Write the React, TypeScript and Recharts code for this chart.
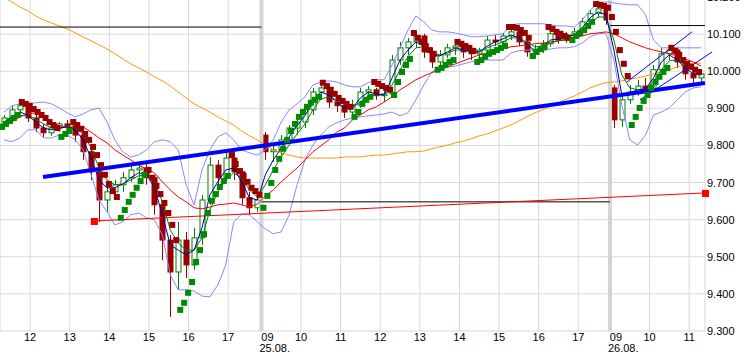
import React from 'react';
import {
  ComposedChart,
  Line,
  Bar,
  XAxis,
  YAxis,
  CartesianGrid,
  ReferenceLine,
  ReferenceDot,
} from 'recharts';

// hour ticks on a continuous trading-time axis (hours since chart start)
const hourTicks = [0.76, 1.76, 2.76, 3.76, 4.76, 5.76, 6.6, 7.6, 8.6, 9.6, 10.6, 11.6, 12.6, 13.6, 14.6, 15.4, 16.4, 17.4];
const hourLabels = ['12', '13', '14', '15', '16', '17', '09', '10', '11', '12', '13', '14', '15', '16', '17', '09', '10', '11'];
const dateLabels: Record<number, string> = { 6: '25.08.', 15: '26.08.' };
const sessionStarts = [6.6, 15.4];
const priceTicks = [9.3, 9.4, 9.5, 9.6, 9.7, 9.8, 9.9, 10.0, 10.1, 10.2];
const barHours = 0.2;
const sarHours = 0.1;
const CANDLE_W = 5;

const open = [
  9.855, 9.874, 9.896, 9.907, 9.874, 9.847, 9.834, 9.847, 9.858, 9.853,
  9.828, 9.783, 9.729, 9.653, 9.675, 9.694, 9.713, 9.734, 9.739, 9.713,
  9.640, 9.545, 9.459, 9.545, 9.478, 9.551, 9.653, 9.747, 9.713, 9.766,
  9.729, 9.659, 9.632,
  9.828, 9.783, 9.788, 9.815, 9.847, 9.863, 9.896, 9.944, 9.955, 9.917,
  9.907, 9.890, 9.909, 9.944, 9.950, 9.934, 9.939, 10.030, 10.063, 10.079,
  10.095, 10.052, 10.025, 10.044, 10.063, 10.068, 10.052, 10.047, 10.057, 10.084,
  10.079, 10.095, 10.106, 10.079, 10.052, 10.057, 10.074, 10.101, 10.084, 10.098,
  10.106, 10.133, 10.155, 10.168,
  9.955, 9.869, 9.923, 9.944, 9.960, 9.950, 10.004, 10.047, 10.057, 10.025, 9.993, 9.982,
];
const high = [
  9.882, 9.907, 9.917, 9.912, 9.882, 9.858, 9.853, 9.863, 9.869, 9.858,
  9.836, 9.793, 9.739, 9.694, 9.707, 9.729, 9.747, 9.756, 9.750, 9.721,
  9.653, 9.559, 9.594, 9.567, 9.578, 9.667, 9.769, 9.761, 9.788, 9.783,
  9.739, 9.675, 9.664,
  9.836, 9.801, 9.828, 9.855, 9.874, 9.912, 9.955, 9.971, 9.963, 9.936,
  9.923, 9.923, 9.955, 9.960, 9.955, 9.950, 10.044, 10.079, 10.090, 10.106,
  10.101, 10.063, 10.057, 10.074, 10.079, 10.079, 10.068, 10.063, 10.095, 10.098,
  10.103, 10.119, 10.117, 10.090, 10.071, 10.084, 10.111, 10.111, 10.106, 10.117,
  10.144, 10.165, 10.179, 10.171,
  9.963, 9.936, 9.963, 9.977, 9.982, 10.017, 10.063, 10.071, 10.063, 10.036, 10.009, 10.004,
];
const low = [
  9.847, 9.869, 9.890, 9.863, 9.836, 9.823, 9.826, 9.836, 9.842, 9.810,
  9.761, 9.707, 9.594, 9.621, 9.653, 9.675, 9.702, 9.713, 9.694, 9.613,
  9.491, 9.338, 9.411, 9.443, 9.465, 9.532, 9.640, 9.686, 9.702, 9.707,
  9.640, 9.613, 9.621,
  9.761, 9.756, 9.774, 9.801, 9.828, 9.847, 9.882, 9.923, 9.901, 9.890,
  9.874, 9.880, 9.901, 9.928, 9.923, 9.917, 9.928, 10.017, 10.044, 10.063,
  10.036, 10.009, 10.014, 10.036, 10.044, 10.036, 10.030, 10.036, 10.052, 10.068,
  10.068, 10.084, 10.068, 10.039, 10.036, 10.049, 10.066, 10.074, 10.076, 10.084,
  10.098, 10.122, 10.144, 10.125,
  9.847, 9.850, 9.912, 9.934, 9.934, 9.944, 9.993, 10.030, 10.009, 9.977, 9.966, 9.971,
];
const close = [
  9.874, 9.896, 9.907, 9.874, 9.847, 9.834, 9.847, 9.858, 9.853, 9.828,
  9.783, 9.729, 9.653, 9.675, 9.694, 9.713, 9.734, 9.739, 9.713, 9.640,
  9.545, 9.459, 9.545, 9.478, 9.551, 9.653, 9.747, 9.713, 9.766, 9.729,
  9.659, 9.632, 9.653,
  9.783, 9.788, 9.815, 9.847, 9.863, 9.896, 9.944, 9.955, 9.917, 9.907,
  9.890, 9.909, 9.944, 9.950, 9.934, 9.939, 10.030, 10.063, 10.079, 10.095,
  10.052, 10.025, 10.044, 10.063, 10.068, 10.052, 10.047, 10.057, 10.084, 10.079,
  10.095, 10.106, 10.079, 10.052, 10.057, 10.074, 10.101, 10.084, 10.098, 10.106,
  10.133, 10.155, 10.168, 10.138,
  9.869, 9.923, 9.944, 9.960, 9.950, 10.004, 10.047, 10.057, 10.025, 9.993, 9.982, 9.993,
];

const bbUpper = [
  9.890, 9.907, 9.912, 9.912, 9.915, 9.917, 9.912, 9.901, 9.888, 9.877,
  9.885, 9.896, 9.901, 9.863, 9.815, 9.783, 9.769, 9.774, 9.788, 9.810,
  9.815, 9.810, 9.788, 9.694, 9.640, 9.734, 9.788, 9.823, 9.834, 9.815,
  9.788, 9.780, 9.774, 9.788, 9.815, 9.863, 9.896, 9.912, 9.931, 9.963,
  9.971, 9.974, 9.971, 9.963, 9.958, 9.958, 9.969, 9.977, 9.977, 10.017,
  10.063, 10.111, 10.149, 10.133, 10.111, 10.106, 10.106, 10.103, 10.098, 10.093,
  10.093, 10.095, 10.098, 10.101, 10.125, 10.128, 10.128, 10.128, 10.128, 10.125,
  10.122, 10.122, 10.119, 10.138, 10.165, 10.184, 10.187, 10.184, 10.181, 10.179,
  10.179, 10.152, 10.084, 10.063, 10.063, 10.063, 10.063, 10.063, 10.063,
];
const bbLower = [
  9.815, 9.810, 9.820, 9.842, 9.842, 9.820, 9.820, 9.828, 9.828, 9.815,
  9.788, 9.721, 9.653, 9.621, 9.586, 9.594, 9.613, 9.618, 9.605, 9.599,
  9.559, 9.451, 9.411, 9.411, 9.408, 9.394, 9.392, 9.424, 9.478, 9.594,
  9.615, 9.613, 9.594, 9.575, 9.562, 9.567, 9.613, 9.694, 9.761, 9.801,
  9.828, 9.850, 9.861, 9.869, 9.874, 9.877, 9.880, 9.882, 9.885, 9.890,
  9.880, 9.888, 9.923, 9.963, 9.998, 10.009, 10.011, 10.014, 10.020, 10.025,
  10.030, 10.030, 10.030, 10.030, 10.049, 10.055, 10.057, 10.057, 10.057, 10.060,
  10.063, 10.063, 10.066, 10.076, 10.093, 10.101, 10.103, 10.030, 9.909, 9.815,
  9.801, 9.828, 9.882, 9.890, 9.901, 9.923, 9.944, 9.955, 9.958,
];
const maRed = [
  9.853, 9.863, 9.877, 9.885, 9.888, 9.880, 9.863, 9.853, 9.850, 9.850,
  9.850, 9.836, 9.820, 9.807, 9.788, 9.774, 9.761, 9.747, 9.737, 9.726,
  9.702, 9.680, 9.661, 9.648, 9.632, 9.629, 9.634, 9.640, 9.642, 9.645,
  9.640, 9.634, 9.642, 9.664, 9.680, 9.702, 9.721, 9.739, 9.761, 9.783,
  9.799, 9.815, 9.836, 9.847, 9.869, 9.882, 9.896, 9.904, 9.917, 9.931,
  9.950, 9.963, 9.977, 9.987, 9.996, 10.004, 10.012, 10.020, 10.028, 10.036,
  10.044, 10.049, 10.055, 10.060, 10.066, 10.068, 10.071, 10.074, 10.076, 10.079,
  10.082, 10.084, 10.090, 10.095, 10.101, 10.103, 10.106, 10.101, 10.090, 10.079,
  10.071, 10.063, 10.057, 10.052, 10.047, 10.041, 10.033, 10.025, 10.014,
];
const maOrange = [
  10.198, 10.187, 10.173, 10.163, 10.149, 10.138, 10.130, 10.122, 10.114, 10.103,
  10.092, 10.082, 10.071, 10.060, 10.047, 10.033, 10.020, 10.009, 9.998, 9.985,
  9.974, 9.960, 9.944, 9.928, 9.912, 9.901, 9.890, 9.877, 9.866, 9.855,
  9.839, 9.826, 9.815, 9.801, 9.788, 9.780, 9.774, 9.769, 9.766, 9.766,
  9.766, 9.766, 9.766, 9.769, 9.769, 9.769, 9.772, 9.774, 9.774, 9.777,
  9.780, 9.783, 9.783, 9.785, 9.791, 9.796, 9.801, 9.807, 9.812, 9.818,
  9.826, 9.831, 9.839, 9.847, 9.855, 9.866, 9.877, 9.888, 9.896, 9.907,
  9.915, 9.925, 9.933, 9.944, 9.955, 9.963, 9.969, 9.971, 9.974, 9.979,
  9.982, 9.987, 9.993, 9.998, 10.004, 10.012, 10.017, 10.022, 10.022,
];
const maNavy = [
  9.863, 9.877, 9.890, 9.882, 9.863, 9.847, 9.842, 9.847, 9.850, 9.842,
  9.815, 9.766, 9.707, 9.686, 9.686, 9.696, 9.713, 9.726, 9.723, 9.686,
  9.613, 9.532, 9.518, 9.505, 9.518, 9.578, 9.667, 9.702, 9.734, 9.739,
  9.702, 9.659, 9.653, 9.721, 9.761, 9.793, 9.823, 9.853, 9.880, 9.917,
  9.944, 9.936, 9.917, 9.901, 9.901, 9.928, 9.944, 9.939, 9.936, 9.982,
  10.030, 10.057, 10.079, 10.068, 10.044, 10.041, 10.052, 10.063, 10.057, 10.052,
  10.052, 10.068, 10.079, 10.087, 10.098, 10.090, 10.071, 10.057, 10.066, 10.084,
  10.087, 10.093, 10.098, 10.117, 10.144, 10.160, 10.152, 10.057, 9.936, 9.942,
  9.950, 9.952, 9.982, 10.025, 10.044, 10.030, 10.009, 9.993, 9.990,
];
const maGreen = [
  9.858, 9.869, 9.880, 9.882, 9.871, 9.858, 9.847, 9.847, 9.850, 9.847,
  9.831, 9.793, 9.739, 9.707, 9.694, 9.696, 9.707, 9.718, 9.721, 9.702,
  9.648, 9.572, 9.537, 9.518, 9.518, 9.551, 9.626, 9.675, 9.707, 9.726,
  9.713, 9.680, 9.661, 9.694, 9.734, 9.769, 9.801, 9.831, 9.858, 9.896,
  9.925, 9.931, 9.923, 9.909, 9.904, 9.917, 9.934, 9.936, 9.936, 9.963,
  10.004, 10.039, 10.063, 10.066, 10.052, 10.044, 10.049, 10.057, 10.057, 10.055,
  10.052, 10.063, 10.071, 10.079, 10.090, 10.090, 10.079, 10.066, 10.066, 10.076,
  10.082, 10.087, 10.093, 10.106, 10.128, 10.146, 10.146, 10.084, 9.990, 9.955,
  9.950, 9.950, 9.971, 10.004, 10.028, 10.030, 10.017, 10.001, 9.993,
];

// Parabolic SAR runs on a finer 6-minute grid: [start slot, values]
const sarRedRuns: [number, number[]][] = [
  [5, [9.917, 9.912, 9.907, 9.898, 9.890, 9.882, 9.874, 9.863, 9.855, 9.847]],
  [18, [9.863, 9.855, 9.845, 9.831, 9.815, 9.796, 9.774, 9.747, 9.721, 9.696, 9.677, 9.661]],
  [37, [9.734, 9.713, 9.691, 9.669, 9.645, 9.618, 9.586, 9.545]],
  [58, [9.774, 9.750, 9.731, 9.718, 9.702, 9.686, 9.677, 9.667]],
  [81, [9.969, 9.960, 9.950, 9.939, 9.928, 9.920, 9.912, 9.904]],
  [94, [9.971, 9.966, 9.960, 9.955, 9.950]],
  [104, [10.103, 10.090, 10.079, 10.068, 10.057, 10.047]],
  [115, [10.079, 10.074, 10.068, 10.063, 10.055]],
  [128, [10.119, 10.119, 10.117, 10.111, 10.103, 10.090]],
  [138, [10.119, 10.114, 10.106, 10.101, 10.095, 10.090]],
  [150, [10.181, 10.179, 10.176, 10.171, 10.146, 10.106, 10.057, 10.020, 9.987]],
  [169, [10.063, 10.055, 10.044, 10.030, 10.020, 10.012, 10.004, 9.998]],
];
const sarGreenRuns: [number, number[]][] = [
  [0, [9.850, 9.858, 9.866, 9.874, 9.882]],
  [15, [9.823, 9.831, 9.839]],
  [30, [9.605, 9.626, 9.648, 9.667, 9.686, 9.704, 9.721]],
  [45, [9.357, 9.376, 9.403, 9.432, 9.486, 9.518, 9.561, 9.618, 9.651, 9.669, 9.688, 9.704, 9.718]],
  [66, [9.632, 9.664, 9.699, 9.734, 9.764, 9.791, 9.815, 9.839, 9.858, 9.877, 9.890, 9.904, 9.915, 9.923, 9.931]],
  [89, [9.877, 9.890, 9.912, 9.923, 9.931]],
  [99, [9.936, 9.971, 9.998, 10.017, 10.033]],
  [110, [10.004, 10.009, 10.017, 10.025, 10.030]],
  [120, [10.025, 10.030, 10.039, 10.047, 10.052, 10.057, 10.063, 10.068]],
  [134, [10.041, 10.052, 10.060, 10.066]],
  [144, [10.084, 10.095, 10.103, 10.111, 10.122, 10.133]],
  [159, [9.855, 9.877, 9.901, 9.920, 9.936, 9.955, 9.971, 9.985, 9.998, 10.009]],
];

// levels and trend lines: [t, price]
const blueTrend = [[1.086, 9.715], [17.8, 9.968]];
const redTrend = [[2.37, 9.5965], [17.8, 9.672]];
const channelA = [[15.83, 9.971], [17.47, 10.106]];
const channelB = [[16.16, 9.923], [17.98, 10.052]];
const dayLevels = [
  [0, 6.6, 10.119],
  [6.6, 15.4, 9.648],
  [15.4, 17.8, 10.123],
];

const slotTime = (slot: number, step: number) => Math.round((step / 2 + slot * step) * 1000) / 1000;

const data = close.map((c, i) => ({
  t: slotTime(i, barHours),
  open: open[i],
  high: high[i],
  low: low[i],
  close: c,
  range: [low[i], high[i]],
  bbU: bbUpper[i],
  bbL: bbLower[i],
  red: maRed[i],
  orange: maOrange[i],
  navy: maNavy[i],
  green: maGreen[i],
}));

const runsToPoints = (runs: [number, number[]][]) =>
  runs.flatMap(([start, vals]) => vals.map((v, k) => ({ t: slotTime(start + k, sarHours), v })));
const sarRedPts = runsToPoints(sarRedRuns);
const sarGreenPts = runsToPoints(sarGreenRuns);

const FONT = '"Liberation Sans", Arial, sans-serif';

const Candle = (props: any) => {
  const { x, y, width, height, payload } = props;
  if (x == null || y == null || !payload) return <g />;
  const top = Math.min(y, y + height);
  const h = Math.abs(height);
  const { open: o, close: c, high: hi, low: lo } = payload;
  const k = h / (hi - lo || 1);
  const bTop = top + (hi - Math.max(o, c)) * k;
  const bBot = top + (hi - Math.min(o, c)) * k;
  const up = c >= o;
  const col = up ? '#008000' : '#990000';
  const cx = Math.round(x + (width || 0) / 2) + 0.5;
  return (
    <g>
      <line x1={cx} x2={cx} y1={top} y2={top + h} stroke={col} strokeWidth={1} />
      <rect
        x={cx - CANDLE_W / 2}
        y={bTop}
        width={CANDLE_W}
        height={Math.max(1, bBot - bTop)}
        fill={up ? '#ffffff' : col}
        stroke={col}
        strokeWidth={1}
      />
    </g>
  );
};

const squareDot = (color: string) => (p: any) => {
  const { cx, cy, value, index } = p;
  if (value == null || cx == null || cy == null || isNaN(cy)) return <g key={`e-${color}-${index}`} />;
  return <rect key={`s-${color}-${index}`} x={cx - 3} y={cy - 3} width={6} height={6} fill={color} />;
};

const XTick = (p: any) => {
  const { x, y, index } = p;
  const label = hourLabels[index];
  const date = dateLabels[index];
  return (
    <g>
      <text
        x={date ? x + 6 : x}
        y={y + 10}
        textAnchor="middle"
        fontSize={11}
        fontFamily={FONT}
        fill="#000"
      >
        {label}
      </text>
      {date ? (
        <text x={x - 2} y={y + 21} textAnchor="start" fontSize={11} fontFamily={FONT} fill="#000">
          {date}
        </text>
      ) : null}
    </g>
  );
};

const YTick = (p: any) => {
  const { x, y, payload } = p;
  return (
    <text x={x} y={y + 4} textAnchor="start" fontSize={11} fontFamily={FONT} fill="#000">
      {Number(payload.value).toFixed(3)}
    </text>
  );
};

export default function App() {
  return (
    <div style={{ position: 'absolute', left: 0, top: -3, background: '#fff' }}>
      <ComposedChart width={745} height={360} data={data} margin={{ top: 0, right: 0, bottom: 0, left: 0 }}>
        <CartesianGrid stroke="#d8d8d8" strokeWidth={1} />
        <XAxis
          dataKey="t"
          type="number"
          domain={[0, 17.8]}
          ticks={hourTicks}
          interval={0}
          tickLine={false}
          axisLine={false}
          tickSize={0}
          tickMargin={0}
          height={26}
          tick={<XTick />}
          allowDataOverflow
        />
        <YAxis
          orientation="right"
          type="number"
          domain={[9.3, 10.2]}
          ticks={priceTicks}
          interval={0}
          tickLine={false}
          axisLine={false}
          tickSize={0}
          tickMargin={2}
          width={40}
          tick={<YTick />}
          allowDataOverflow
        />
        {sessionStarts.map((s) => (
          <ReferenceLine key={`sess-${s}`} x={s} stroke="#d4d4d4" strokeWidth={4} />
        ))}
        <Line dataKey="orange" stroke="#ff9900" strokeWidth={1} dot={false} activeDot={false} isAnimationActive={false} />
        <Line dataKey="bbU" stroke="#8888ff" strokeWidth={1} dot={false} activeDot={false} isAnimationActive={false} />
        <Line dataKey="bbL" stroke="#8888ff" strokeWidth={1} dot={false} activeDot={false} isAnimationActive={false} />
        <Line dataKey="red" stroke="#ff0000" strokeWidth={1} dot={false} activeDot={false} isAnimationActive={false} />
        {dayLevels.map(([a, b, v]) => (
          <ReferenceLine
            key={`lvl-${a}`}
            segment={[{ x: a, y: v }, { x: b, y: v }]}
            stroke="#000000"
            strokeWidth={1}
          />
        ))}
        <ReferenceLine
          segment={[{ x: redTrend[0][0], y: redTrend[0][1] }, { x: redTrend[1][0], y: redTrend[1][1] }]}
          stroke="#ff0000"
          strokeWidth={1}
        />
        <Bar dataKey="range" barSize={6} shape={<Candle />} isAnimationActive={false} />
        <Line dataKey="green" stroke="#008000" strokeWidth={1} dot={false} activeDot={false} isAnimationActive={false} />
        <Line dataKey="navy" stroke="#0000a0" strokeWidth={1} dot={false} activeDot={false} isAnimationActive={false} />
        <Line
          data={sarRedPts}
          dataKey="v"
          stroke="none"
          dot={squareDot('#990000')}
          activeDot={false}
          isAnimationActive={false}
        />
        <Line
          data={sarGreenPts}
          dataKey="v"
          stroke="none"
          dot={squareDot('#008a00')}
          activeDot={false}
          isAnimationActive={false}
        />
        <ReferenceLine
          segment={[{ x: blueTrend[0][0], y: blueTrend[0][1] }, { x: blueTrend[1][0], y: blueTrend[1][1] }]}
          stroke="#0000ff"
          strokeWidth={4}
        />
        <ReferenceLine
          segment={[{ x: channelA[0][0], y: channelA[0][1] }, { x: channelA[1][0], y: channelA[1][1] }]}
          stroke="#0000ff"
          strokeWidth={1}
        />
        <ReferenceLine
          segment={[{ x: channelB[0][0], y: channelB[0][1] }, { x: channelB[1][0], y: channelB[1][1] }]}
          stroke="#0000ff"
          strokeWidth={1}
          ifOverflow="visible"
        />
        {[redTrend[0], redTrend[1]].map(([tx, ty], i) => (
          <ReferenceDot
            key={`rd-${i}`}
            x={tx}
            y={ty}
            r={3}
            ifOverflow="visible"
            shape={(p: any) => <rect x={p.cx - 3} y={p.cy - 3} width={7} height={7} fill="#ff0000" />}
          />
        ))}
      </ComposedChart>
    </div>
  );
}
